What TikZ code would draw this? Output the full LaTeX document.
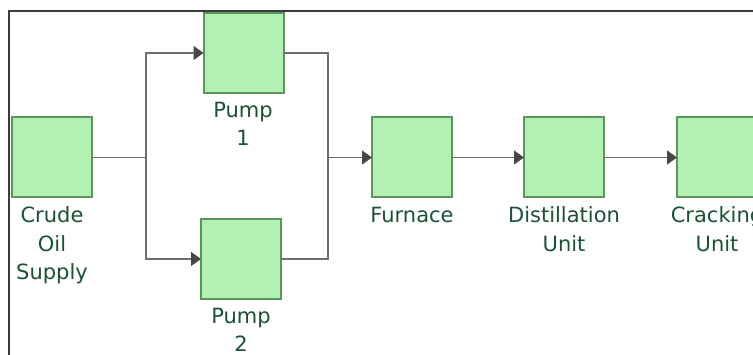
\documentclass[tikz,border=0pt]{standalone}
\usepackage{fontspec}
\setmainfont{DejaVu Sans}
\usetikzlibrary{arrows.meta}
\definecolor{boxfill}{HTML}{B3F0B3}
\definecolor{boxdraw}{HTML}{5A965A}
\definecolor{linecol}{HTML}{6E6E6E}
\definecolor{arrowcol}{HTML}{474747}
\definecolor{txtcol}{HTML}{1A5236}
\definecolor{framecol}{HTML}{3C3C3C}
\tikzset{
  unitbox/.style={draw=boxdraw, fill=boxfill, line width=2pt, minimum width=80pt, minimum height=80pt, inner sep=0pt, outer sep=0pt},
  lbl/.style={text=txtcol, font=\fontsize{21pt}{28.5pt}\selectfont, align=center, anchor=north, inner sep=0pt},
  conn/.style={draw=linecol, line width=1.3pt},
  arr/.style={conn, -{Triangle[length=10pt,width=14pt,color=arrowcol]}}
}
\begin{document}
\begin{tikzpicture}[x=1pt,y=-1pt]
\useasboundingbox (0,0) rectangle (753,355);
\clip (0,0) rectangle (753,355);
\draw[framecol, line width=1.5pt] (9,360) -- (9,11) -- (760,11);
% boxes
\node[unitbox] (crude) at (52,157.5) {};
\node[unitbox] (pump1) at (243.5,53) {};
\node[unitbox] (pump2) at (241,259) {};
\node[unitbox] (furn) at (412,157.5) {};
\node[unitbox] (dist) at (564,157.5) {};
\node[unitbox] (crack) at (717,157.5) {};
% labels
\node[lbl] (lcrude) at (52,206.5) {Crude\\Oil\\Supply};
\node[lbl] (lpump1) at (243,101.5) {Pump\\1};
\node[lbl] (lpump2) at (241,307.5) {Pump\\2};
\node[lbl] (lfurn) at (412,206.5) {Furnace};
\node[lbl] (ldist) at (564,206.5) {Distillation\\Unit};
\node[lbl] (lcrack) at (717,206.5) {Cracking\\Unit};
% junctions
\coordinate (j1) at (146,157.5);
\coordinate (j2) at (328,157.5);
% connectors
\draw[conn] (crude.east) -- (j1);
\draw[arr] (j1) |- (pump1.west);
\draw[arr] (j1) |- (pump2.west);
\draw[conn] (pump1.east) -| (j2);
\draw[conn] (pump2.east) -| (j2);
\draw[arr] (j2) -- (furn.west);
\draw[arr] (furn.east) -- (dist.west);
\draw[arr] (dist.east) -- (crack.west);
\end{tikzpicture}
\end{document}
